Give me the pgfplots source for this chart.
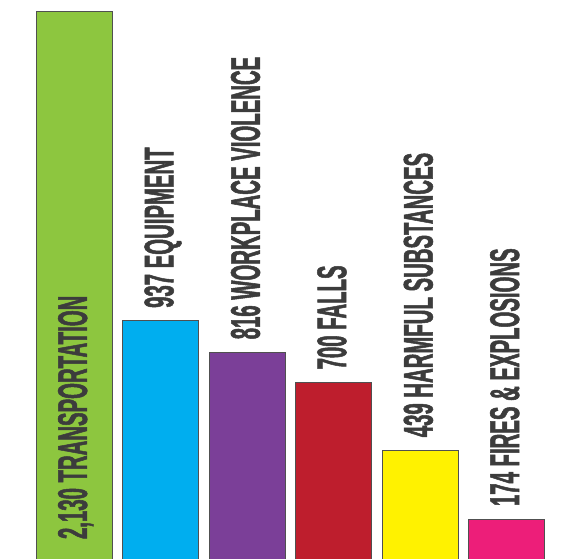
\documentclass[border=0pt]{standalone}
\usepackage{pgfplots}
\pgfplotsset{compat=1.18}
\usepackage{fontspec}
\newfontfamily\labelfont[FakeStretch=0.49,FakeBold=1.2]{Liberation Sans}
\definecolor{cgreen}{HTML}{8DC63F}
\definecolor{cblue}{HTML}{00AEEF}
\definecolor{cpurple}{HTML}{7B3F98}
\definecolor{cred}{HTML}{BE1E2D}
\definecolor{cyellow}{HTML}{FFF200}
\definecolor{cpink}{HTML}{ED1E79}
\definecolor{ctext}{HTML}{3C3C3C}
\definecolor{cborder}{HTML}{505050}
\begin{document}
\begin{tikzpicture}
\begin{axis}[
  width=562pt, height=559pt, scale only axis,
  hide axis,
  xmin=-0.862, xmax=5.642,
  ymin=20, ymax=2172.6,
  clip=true,
]
\pgfplotsset{mybar/.style={ybar, bar shift=0pt, bar width=76pt, draw=cborder, line width=0.8pt}}
\addplot[mybar, fill=cgreen] coordinates {(0,2130)};
\addplot[mybar, fill=cblue] coordinates {(1,937)};
\addplot[mybar, fill=cpurple] coordinates {(2,816)};
\addplot[mybar, fill=cred] coordinates {(3,700)};
\addplot[mybar, fill=cyellow] coordinates {(4,439)};
\addplot[mybar, fill=cpink] coordinates {(5,174)};
\addplot[draw=none, mark=none, point meta=explicit symbolic,
  nodes near coords={\labelfont\bfseries\fontsize{41.5}{41.5}\selectfont\pgfplotspointmeta},
  every node near coord/.style={rotate=90, anchor=west, inner sep=0pt, outer xsep=13pt,
    text height=29pt, text depth=4pt, text=ctext}]
  coordinates {
  (0,47) [{2,130 TRANSPORTATION}]
  (1,937) [937 EQUIPMENT]
  (2,816) [816 WORKPLACE VIOLENCE]
  (3,700) [700 FALLS]
  (4,439) [439 HARMFUL SUBSTANCES]
  (5,174) [174 FIRES \& EXPLOSIONS]
  };
\end{axis}
\pgfresetboundingbox
\path (current axis.south west) rectangle (current axis.north east);
\end{tikzpicture}
\end{document}
